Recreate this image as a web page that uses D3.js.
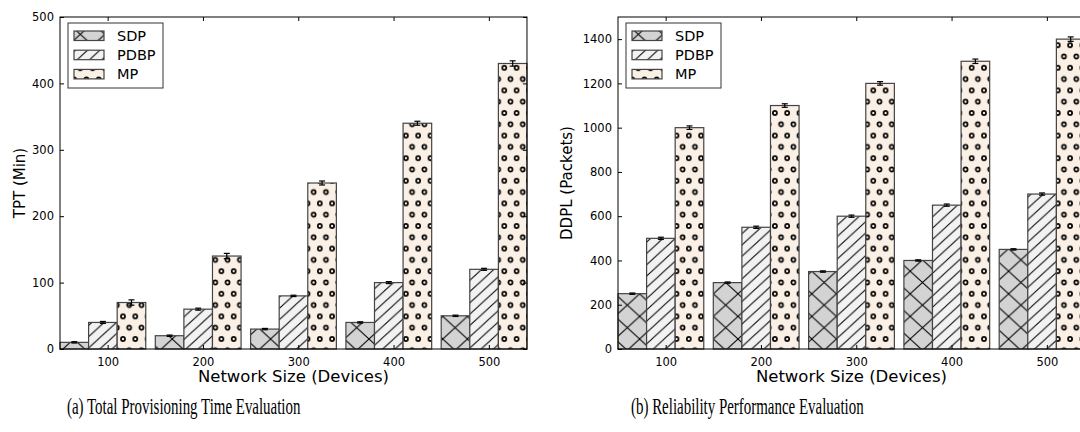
<!DOCTYPE html>
<html>
<head>
<meta charset="utf-8">
<script src="https://cdn.jsdelivr.net/npm/d3@7"></script>
<style>
  body { margin: 0; background: #fff; }
  svg { display: block; }
</style>
</head>
<body>
<svg id="chart" width="1080" height="432"></svg>
<script>
// ---- data ----
const networkSizes = [100, 200, 300, 400, 500];
const seriesNames = ['SDP', 'PDBP', 'MP'];

// (a) total provisioning time, minutes
const tptSDP = [10, 20, 30, 40, 50];
const tptPDBP = [40, 60, 80, 100, 120];
const tptMP = [70, 140, 250, 340, 430];
const tptErrSDP = [1, 1, 1, 1, 1];
const tptErrPDBP = [1.5, 1.5, 1, 1.5, 1.5];
const tptErrMP = [4, 4, 3, 3, 4];
const tptTicks = [0, 100, 200, 300, 400, 500];

// (b) DDPL, packets
const ddplSDP = [250, 300, 350, 400, 450];
const ddplPDBP = [500, 550, 600, 650, 700];
const ddplMP = [1000, 1100, 1200, 1300, 1400];
const ddplErrSDP = [3, 3, 3, 3, 3];
const ddplErrPDBP = [5, 5, 5, 5, 5];
const ddplErrMP = [8, 8, 8, 10, 10];
const ddplTicks = [0, 200, 400, 600, 800, 1000, 1200, 1400];

const SANS = '"DejaVu Sans", sans-serif';
const SERIF = '"Liberation Serif", "Times New Roman", serif';

const svg = d3.select('#chart');

function addPatterns(defs) {
  // hatch spacing of the original (matplotlib 'x', '//', 'o')
  const ux = 12.3, uy = 11.3;

  // SDP: 'x'
  let w = 2 * ux, h = 2 * uy;
  const px = defs.append('pattern').attr('id', 'hatch-x')
    .attr('patternUnits', 'userSpaceOnUse').attr('width', w).attr('height', h);
  px.append('rect').attr('width', w).attr('height', h).attr('fill', '#d3d3d3');
  px.append('path')
    .attr('d', `M0,${h}L${w},0M${-w},${h}L${w},${-h}M0,${2 * h}L${2 * w},0` +
               `M0,0L${w},${h}M0,${-h}L${2 * w},${h}M${-w},0L${w},${2 * h}`)
    .attr('stroke', '#000').attr('stroke-width', 1).attr('fill', 'none');

  // PDBP: '//'
  w = ux; h = uy;
  const ps = defs.append('pattern').attr('id', 'hatch-slash')
    .attr('patternUnits', 'userSpaceOnUse').attr('width', w).attr('height', h);
  ps.append('rect').attr('width', w).attr('height', h).attr('fill', '#f2f2f2');
  ps.append('path')
    .attr('d', `M${-w},${h}L${w},${-h}M0,${h}L${w},0M0,${2 * h}L${2 * w},0`)
    .attr('stroke', '#000').attr('stroke-width', 1).attr('fill', 'none');

  // MP: 'o'
  w = ux; h = 2 * uy;
  const po = defs.append('pattern').attr('id', 'hatch-o')
    .attr('patternUnits', 'userSpaceOnUse').attr('width', w).attr('height', h);
  po.append('rect').attr('width', w).attr('height', h).attr('fill', '#faf0e6');
  [[0, 0], [w, 0], [0, h], [w, h], [w / 2, h / 2]].forEach(c => {
    po.append('circle').attr('cx', c[0]).attr('cy', c[1]).attr('r', 2)
      .attr('fill', 'none').attr('stroke', '#000').attr('stroke-width', 1.7);
  });
}

addPatterns(svg.append('defs'));
const fills = ['url(#hatch-x)', 'url(#hatch-slash)', 'url(#hatch-o)'];

function drawPanel(cfg) {
  const top = 17, bottom = 349;
  const pitch = 95.3;
  const barW = 0.3;
  const left = cfg.left, right = left + 4.9 * pitch;

  const x = d3.scaleLinear().domain([0, 4.9]).range([left, right]);
  const y = d3.scaleLinear().domain([0, cfg.yMax]).range([bottom, top]);

  const g = svg.append('g');

  // bars
  cfg.values.forEach((vals, k) => {
    g.selectAll(null)
      .data(vals)
      .join('rect')
        .attr('x', (d, i) => x(i + k * barW))
        .attr('y', d => y(d))
        .attr('width', x(barW) - x(0))
        .attr('height', d => y(0) - y(d))
        .attr('fill', fills[k])
        .attr('stroke', '#444')
        .attr('stroke-width', 1.2);
  });

  // error bars
  cfg.values.forEach((vals, k) => {
    const errs = cfg.errors[k];
    vals.forEach((v, i) => {
      const cx = x(i + k * barW + barW / 2);
      const e = errs[i];
      const eg = g.append('g').attr('stroke', '#000').attr('stroke-width', 1.2);
      eg.append('line').attr('x1', cx).attr('x2', cx).attr('y1', y(v - e)).attr('y2', y(v + e));
      eg.append('line').attr('x1', cx - 3).attr('x2', cx + 3).attr('y1', y(v - e)).attr('y2', y(v - e));
      eg.append('line').attr('x1', cx - 3).attr('x2', cx + 3).attr('y1', y(v + e)).attr('y2', y(v + e));
    });
  });

  const tickPos = networkSizes.map((d, i) => i + 0.5);

  // axes, ticks pointing inward on all four sides
  const styleAxis = sel => {
    sel.select('.domain').remove();
    sel.attr('font-family', SANS).attr('font-size', 11.5);
    sel.selectAll('.tick line').attr('stroke', '#000');
    sel.selectAll('.tick text').attr('fill', '#000');
  };

  g.append('g')
    .attr('transform', `translate(0,${bottom})`)
    .call(d3.axisBottom(x).tickValues(tickPos)
      .tickFormat((d, i) => networkSizes[i]).tickSize(-4).tickPadding(8.5))
    .call(styleAxis);

  g.append('g')
    .attr('transform', `translate(0,${top})`)
    .call(d3.axisTop(x).tickValues(tickPos).tickFormat('').tickSize(-4))
    .call(styleAxis);

  g.append('g')
    .attr('transform', `translate(${left},0)`)
    .call(d3.axisLeft(y).tickValues(cfg.yTicks).tickFormat(d3.format('d'))
      .tickSize(-4).tickPadding(6))
    .call(styleAxis);

  g.append('g')
    .attr('transform', `translate(${right},0)`)
    .call(d3.axisRight(y).tickValues(cfg.yTicks).tickFormat('').tickSize(-4))
    .call(styleAxis);

  // frame
  g.append('rect')
    .attr('x', left).attr('y', top)
    .attr('width', right - left).attr('height', bottom - top)
    .attr('fill', 'none').attr('stroke', '#000').attr('stroke-width', 1);

  // axis labels
  g.append('text')
    .attr('x', (left + right) / 2).attr('y', 382)
    .attr('text-anchor', 'middle')
    .attr('font-family', SANS).attr('font-size', 16.5)
    .text('Network Size (Devices)');

  g.append('text')
    .attr('transform', `translate(${cfg.yLabelX},${(top + bottom) / 2}) rotate(-90)`)
    .attr('dy', '0.35em')
    .attr('text-anchor', 'middle')
    .attr('font-family', SANS).attr('font-size', 15)
    .text(cfg.yLabel);

  // legend
  const lg = g.append('g').attr('transform', `translate(${left + 8},23)`);
  lg.append('rect').attr('width', 95).attr('height', 65)
    .attr('fill', '#fff').attr('stroke', '#333').attr('stroke-width', 1);
  seriesNames.forEach((name, k) => {
    const ry = 8 + k * 19.2;
    lg.append('rect').attr('x', 6).attr('y', ry).attr('width', 30).attr('height', 9.5)
      .attr('fill', fills[k]).attr('stroke', '#444').attr('stroke-width', 1.2);
    lg.append('text').attr('x', 49).attr('y', ry + 4.75).attr('dy', '0.36em')
      .attr('font-family', SANS).attr('font-size', 14.5)
      .text(name);
  });

  // caption (condensed serif, as in the source figure)
  svg.append('text')
    .attr('transform', `translate(${cfg.captionX},414) scale(0.65,1)`)
    .attr('font-family', SERIF).attr('font-size', 23)
    .text(cfg.caption);
}

drawPanel({
  left: 60,
  yMax: 500,
  yTicks: tptTicks,
  values: [tptSDP, tptPDBP, tptMP],
  errors: [tptErrSDP, tptErrPDBP, tptErrMP],
  yLabel: 'TPT (Min)',
  yLabelX: 20,
  caption: '(a) Total Provisioning Time Evaluation',
  captionX: 67
});

drawPanel({
  left: 618,
  yMax: 1500,
  yTicks: ddplTicks,
  values: [ddplSDP, ddplPDBP, ddplMP],
  errors: [ddplErrSDP, ddplErrPDBP, ddplErrMP],
  yLabel: 'DDPL (Packets)',
  yLabelX: 567,
  caption: '(b) Reliability Performance Evaluation',
  captionX: 631
});
</script>
</body>
</html>
